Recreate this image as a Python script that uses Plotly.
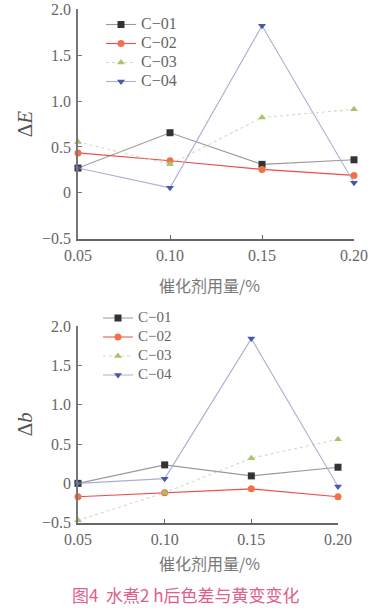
import plotly.graph_objects as go

x_vals = [0.05, 0.10, 0.15, 0.20]
x_ticktext = ["0.05", "0.10", "0.15", "0.20"]
y_tickvals = [-0.5, 0, 0.5, 1.0, 1.5, 2.0]
y_ticktext = ["\u22120.5", "0", "0.5", "1.0", "1.5", "2.0"]
series_names = ["C\u221201", "C\u221202", "C\u221203", "C\u221204"]

dE_c01 = [0.27, 0.655, 0.31, 0.36]
dE_c02 = [0.435, 0.35, 0.255, 0.19]
dE_c03 = [0.555, 0.31, 0.82, 0.91]
dE_c04 = [0.27, 0.055, 1.82, 0.11]

db_c01 = [0.0, 0.235, 0.095, 0.205]
db_c02 = [-0.17, -0.12, -0.07, -0.17]
db_c03 = [-0.47, -0.12, 0.32, 0.56]
db_c04 = [0.0, 0.06, 1.84, -0.04]

x_title = "催化剂用量/%"
caption = "图4  水煮2 h后色差与黄变变化"

marker_colors = ["#333333", "#f2704a", "#a8c46a", "#4a58a8"]
line_colors = ["#999999", "#f04a4a", "#d0dcc0", "#aab0d0"]
symbols = ["square", "circle", "triangle-up", "triangle-down"]
line_dash = ["solid", "solid", "dot", "solid"]

fig = go.Figure()

top_sets = [dE_c01, dE_c02, dE_c03, dE_c04]
bot_sets = [db_c01, db_c02, db_c03, db_c04]

for i in range(4):
    fig.add_trace(go.Scatter(
        x=x_vals, y=top_sets[i],
        name='<span style="font-size:16px">' + series_names[i] + '</span>',
        mode="lines+markers",
        line=dict(color=line_colors[i], width=1.1, dash=line_dash[i]),
        marker=dict(symbol=symbols[i], size=7, color=marker_colors[i]),
        xaxis="x", yaxis="y", legend="legend", cliponaxis=False))
for i in range(4):
    fig.add_trace(go.Scatter(
        x=x_vals, y=bot_sets[i],
        name='<span style="font-size:15px">' + series_names[i] + '</span>',
        mode="lines+markers",
        line=dict(color=line_colors[i], width=1.1, dash=line_dash[i]),
        marker=dict(symbol=symbols[i], size=7, color=marker_colors[i]),
        xaxis="x2", yaxis="y2", legend="legend2", cliponaxis=False))

W, H = 376, 613
serif = "Liberation Serif"
cjk = "Noto Sans CJK SC"
tick_font = dict(family=serif, size=16, color="#666666")

def xaxis(domain, anchor):
    return dict(domain=domain, anchor=anchor, range=[0.05, 0.20],
                tickvals=x_vals, ticktext=x_ticktext, tickfont=tick_font,
                showline=True, linecolor="#666666", linewidth=1.5,
                ticks="inside", ticklen=4, tickcolor="#666666",
                ticklabelstandoff=1, automargin=False,
                showgrid=False, zeroline=False, mirror=False)

def yaxis(domain, anchor, title):
    return dict(domain=domain, anchor=anchor, range=[-0.5, 2.0],
                tickvals=y_tickvals, ticktext=y_ticktext, tickfont=tick_font,
                showline=True, linecolor="#777777", linewidth=1.5,
                ticks="inside", ticklen=4, tickcolor="#777777",
                ticklabelstandoff=2, automargin=False,
                showgrid=False, zeroline=False,
                title=dict(text=title, font=dict(family=serif, size=21, color="#555555"),
                           standoff=4))

fig.update_layout(
    width=W, height=H, margin=dict(l=0, r=0, t=0, b=0, autoexpand=False),
    paper_bgcolor="white", plot_bgcolor="white",
    xaxis=xaxis([78 / W, 354 / W], "y"),
    yaxis=yaxis([1 - 238.7 / H, 1 - 9.3 / H], "x", "\u0394<i>E</i>"),
    xaxis2=xaxis([78 / W, 338 / W], "y2"),
    yaxis2=yaxis([1 - 522.7 / H, 1 - 326 / H], "x2", "\u0394<i>b</i>"),
    legend=dict(x=101 / W, y=1 - 10 / H, xanchor="left", yanchor="top",
                bgcolor="rgba(0,0,0,0)", font=dict(family=serif, size=12, color="#666666"),
                itemwidth=30, tracegroupgap=0),
    legend2=dict(x=98 / W, y=1 - 303.5 / H, xanchor="left", yanchor="top",
                 bgcolor="rgba(0,0,0,0)", font=dict(family=serif, size=11, color="#666666"),
                 itemwidth=30, tracegroupgap=0),
    showlegend=True,
    annotations=[
        dict(text=x_title, x=210 / W, y=1 - 285 / H, xref="paper", yref="paper",
             xanchor="center", yanchor="middle",
             showarrow=False, font=dict(family=cjk, size=16, color="#777777")),
        dict(text=x_title, x=209 / W, y=1 - 563 / H, xref="paper", yref="paper",
             xanchor="center", yanchor="middle",
             showarrow=False, font=dict(family=cjk, size=16, color="#777777")),
        dict(text=caption, x=186 / W, y=1 - 594 / H, xref="paper", yref="paper",
             xanchor="center", yanchor="middle",
             showarrow=False, font=dict(family=cjk, size=17, color="#e0608a")),
    ],
)

fig.write_html("out.html", config={"displayModeBar": False},
               post_script="document.body.style.margin='0';document.body.style.overflow='hidden';")
